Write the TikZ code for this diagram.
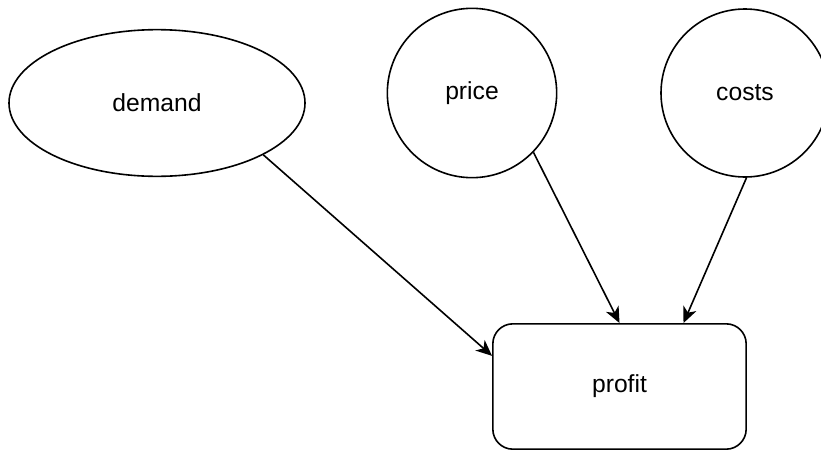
\documentclass[tikz,border=0pt]{standalone}
\usepackage{fontspec}
\setmainfont{Liberation Sans}
\usetikzlibrary{shapes,arrows.meta}

\begin{document}
\begin{tikzpicture}[x=0.75pt,y=-0.75pt,
  factor/.style={draw,line width=1.2pt,inner sep=0pt,font=\fontsize{18.5}{18.5}\selectfont},
  link/.style={-{Stealth[length=12pt,width=10.5pt,inset=3.5pt]},line width=1.2pt}]
\useasboundingbox (0,0) rectangle (821,450);

\node[factor,ellipse,minimum width=222pt,minimum height=110pt] (demand) at (157,103) {demand};
\node[factor,circle,minimum size=127pt] (price) at (472,93) {price};
\node[factor,circle,minimum size=126pt] (costs) at (745,93) {costs};
\node[factor,rectangle,rounded corners=15pt,minimum width=190pt,minimum height=94pt] (profit) at (619.5,386.5) {profit};

\draw[link] (demand.-26) -- ([yshift=23pt]profit.west);
\draw[link] (price.-44) -- (profit.north);
\draw[link] (costs.-89) -- ([xshift=48pt]profit.north);
\end{tikzpicture}
\end{document}
